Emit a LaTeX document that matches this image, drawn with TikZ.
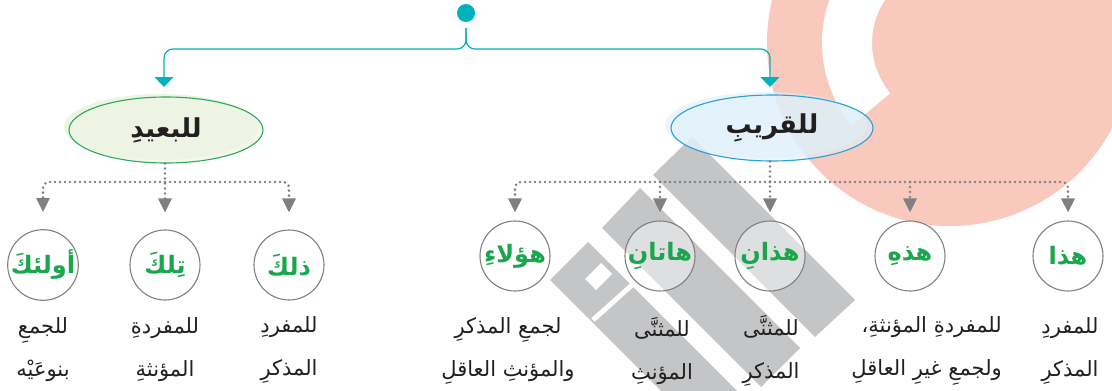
\documentclass[tikz,border=0pt]{standalone}
\usepackage{fontspec}
\usetikzlibrary{shapes.geometric}
\usetikzlibrary{arrows.meta}
\newfontfamily\arabicfont[Script=Arabic]{DejaVu Sans}
\TeXXeTstate=1
\newcommand{\artxt}[1]{\beginR #1\endR}
\definecolor{tealc}{RGB}{0,178,187}
\definecolor{pinkc}{RGB}{249,201,190}
\definecolor{wmgray}{RGB}{196,197,199}
\definecolor{dotgray}{RGB}{128,128,130}
\definecolor{greenline}{RGB}{45,170,85}
\definecolor{greenfill}{RGB}{237,244,228}
\definecolor{blueline}{RGB}{40,160,215}
\definecolor{bluefill}{RGB}{222,240,250}
\definecolor{arabgreen}{RGB}{26,166,76}
\definecolor{inkc}{RGB}{35,31,32}
\tikzstyle{demo}=[circle, draw=dotgray, line width=1.1pt, minimum size=70pt, inner sep=0pt, fill=white, fill opacity=0.45, text opacity=1, text=arabgreen, font=\arabicfont\bfseries\fontsize{24}{24}\selectfont]
\tikzstyle{group}=[ellipse, minimum height=66pt, inner sep=0pt, line width=1.1pt, fill opacity=0.65, text opacity=1, text=inkc, font=\arabicfont\bfseries\fontsize{26}{26}\selectfont]
\tikzstyle{farg}=[group, minimum width=194pt, draw=greenline, fill=greenfill]
\tikzstyle{nearg}=[group, minimum width=202pt, draw=blueline, fill=bluefill]
\tikzstyle{usage}=[align=center, inner sep=0pt, text=inkc, font=\arabicfont\fontsize{21}{43}\selectfont]
\tikzstyle{branch}=[tealc, line width=1.2pt, rounded corners=9pt, -{Triangle[width=19pt,length=10pt]}]
\tikzstyle{dotbranch}=[dotgray, line width=2.8pt, line cap=round, dash pattern=on 0pt off 5pt, -{Triangle[width=13pt,length=14pt]}]

\begin{document}
\begin{tikzpicture}[x=1pt, y=-1pt]
        \path[use as bounding box, clip] (0,0) rectangle (1112,391);
        % backdrop: ring and watermark
        \fill[pinkc] (950,43) circle (183);
        \fill[white] (950,43) ++(-90:128) arc[start angle=-90, end angle=-220, radius=128] -- ++(-220:-50) arc[start angle=-220, end angle=-90, radius=78] -- cycle;
        \fill[wmgray] (692,137) -- (855,300) -- (815,337) -- (653,175) -- cycle;
        \fill[wmgray] (640,188) -- (800,348) -- (761,387) -- (602,228) -- cycle;
        \fill[wmgray] (588,242) -- (760,414) -- (684,414) -- (550,280) -- cycle;
        \draw[white, line width=5pt] (593,320) -- (632,285);
        \fill[white] (585,279) -- (601,263) -- (612,274) -- (596,290) -- cycle;

        % top fork
        \node[circle, fill=tealc, minimum size=18pt, inner sep=0pt] (root) at (466,13) {};
        \coordinate (trunk) at (466,49);
        \coordinate (tipL) at (164,87);
        \coordinate (tipR) at (770,87);
        \draw[branch] ([yshift=-6pt]root.south) |- (tipL |- trunk) -- (tipL);
        \draw[branch] ([yshift=-6pt]root.south) |- (tipR |- trunk) -- (tipR);

        % the two groups
        \fill[greenfill] (161,127) ellipse [x radius=97, y radius=33];
        \fill[bluefill, opacity=0.6] (766,125) ellipse [x radius=101, y radius=33];
        \node[farg] (far) at (166,130) {\artxt{للبعيدِ}};
        \node[nearg] (near) at (772,128) {\artxt{للقريبِ}};

        % demonstratives
        \node[demo] (ulaika) at (43,265) {\artxt{أولئكَ}};
        \node[demo] (tilka) at (165,265) {\artxt{تِلكَ}};
        \node[demo] (dhalika) at (289,265) {\artxt{ذلكَ}};
        \node[demo] (haulai) at (515,256) {\artxt{هؤلاءِ}};
        \node[demo] (hatani) at (660,256) {\artxt{هاتانِ}};
        \node[demo] (hadhani) at (770,256) {\artxt{هذانِ}};
        \node[demo] (hadhihi) at (910,256) {\artxt{هذهِ}};
        \node[demo] (hadha) at (1068,256) {\artxt{هذا}};

        % dotted branches
        \coordinate (busL) at (165,182);
        \coordinate (busR) at (770,182);
        \draw[dotbranch, shorten >=17pt] (tilka |- far.south) -- (tilka.north);
        \draw[dotbranch, shorten >=17pt, rounded corners=6pt] (busL) -| (ulaika.north);
        \draw[dotbranch, shorten >=17pt, rounded corners=6pt] (busL) -| (dhalika.north);
        \draw[dotbranch, shorten >=8pt] (hadhani |- near.south) -- (hadhani.north);
        \draw[dotbranch, shorten >=8pt, rounded corners=6pt] (busR) -| (haulai.north);
        \draw[dotbranch, shorten >=8pt, rounded corners=6pt] (busR) -| (hadha.north);
        \draw[dotbranch, shorten >=8pt] (hatani |- busR) -- (hatani.north);
        \draw[dotbranch, shorten >=8pt] (hadhihi |- busR) -- (hadhihi.north);

        % usage
        \node[usage] (ulaikaU) at (43,350) {\artxt{للجمعِ}\\\artxt{بنوعَيْه}};
        \node[usage] (tilkaU) at (165,350) {\artxt{للمفردةِ}\\\artxt{المؤنثةِ}};
        \node[usage] (dhalikaU) at (289,350) {\artxt{للمفردِ}\\\artxt{المذكرِ}};
        \node[usage] (haulaiU) at (508,351) {\artxt{لجمعِ المذكرِ}\\\artxt{والمؤنثِ العاقلِ}};
        \node[usage] (hataniU) at (662,351) {\artxt{للمثنَّى}\\\artxt{المؤنثِ}};
        \node[usage] (hadhaniU) at (771,351) {\artxt{للمثنَّى}\\\artxt{المذكرِ}};
        \node[usage, align=right, anchor=east] (hadhihiU) at (1002,351) {\artxt{للمفردةِ المؤنثةِ،}\\\artxt{ولجمعِ غيرِ العاقلِ}};
        \node[usage] (hadhaU) at (1070,351) {\artxt{للمفردِ}\\\artxt{المذكرِ}};
    \end{tikzpicture}
\end{document}
